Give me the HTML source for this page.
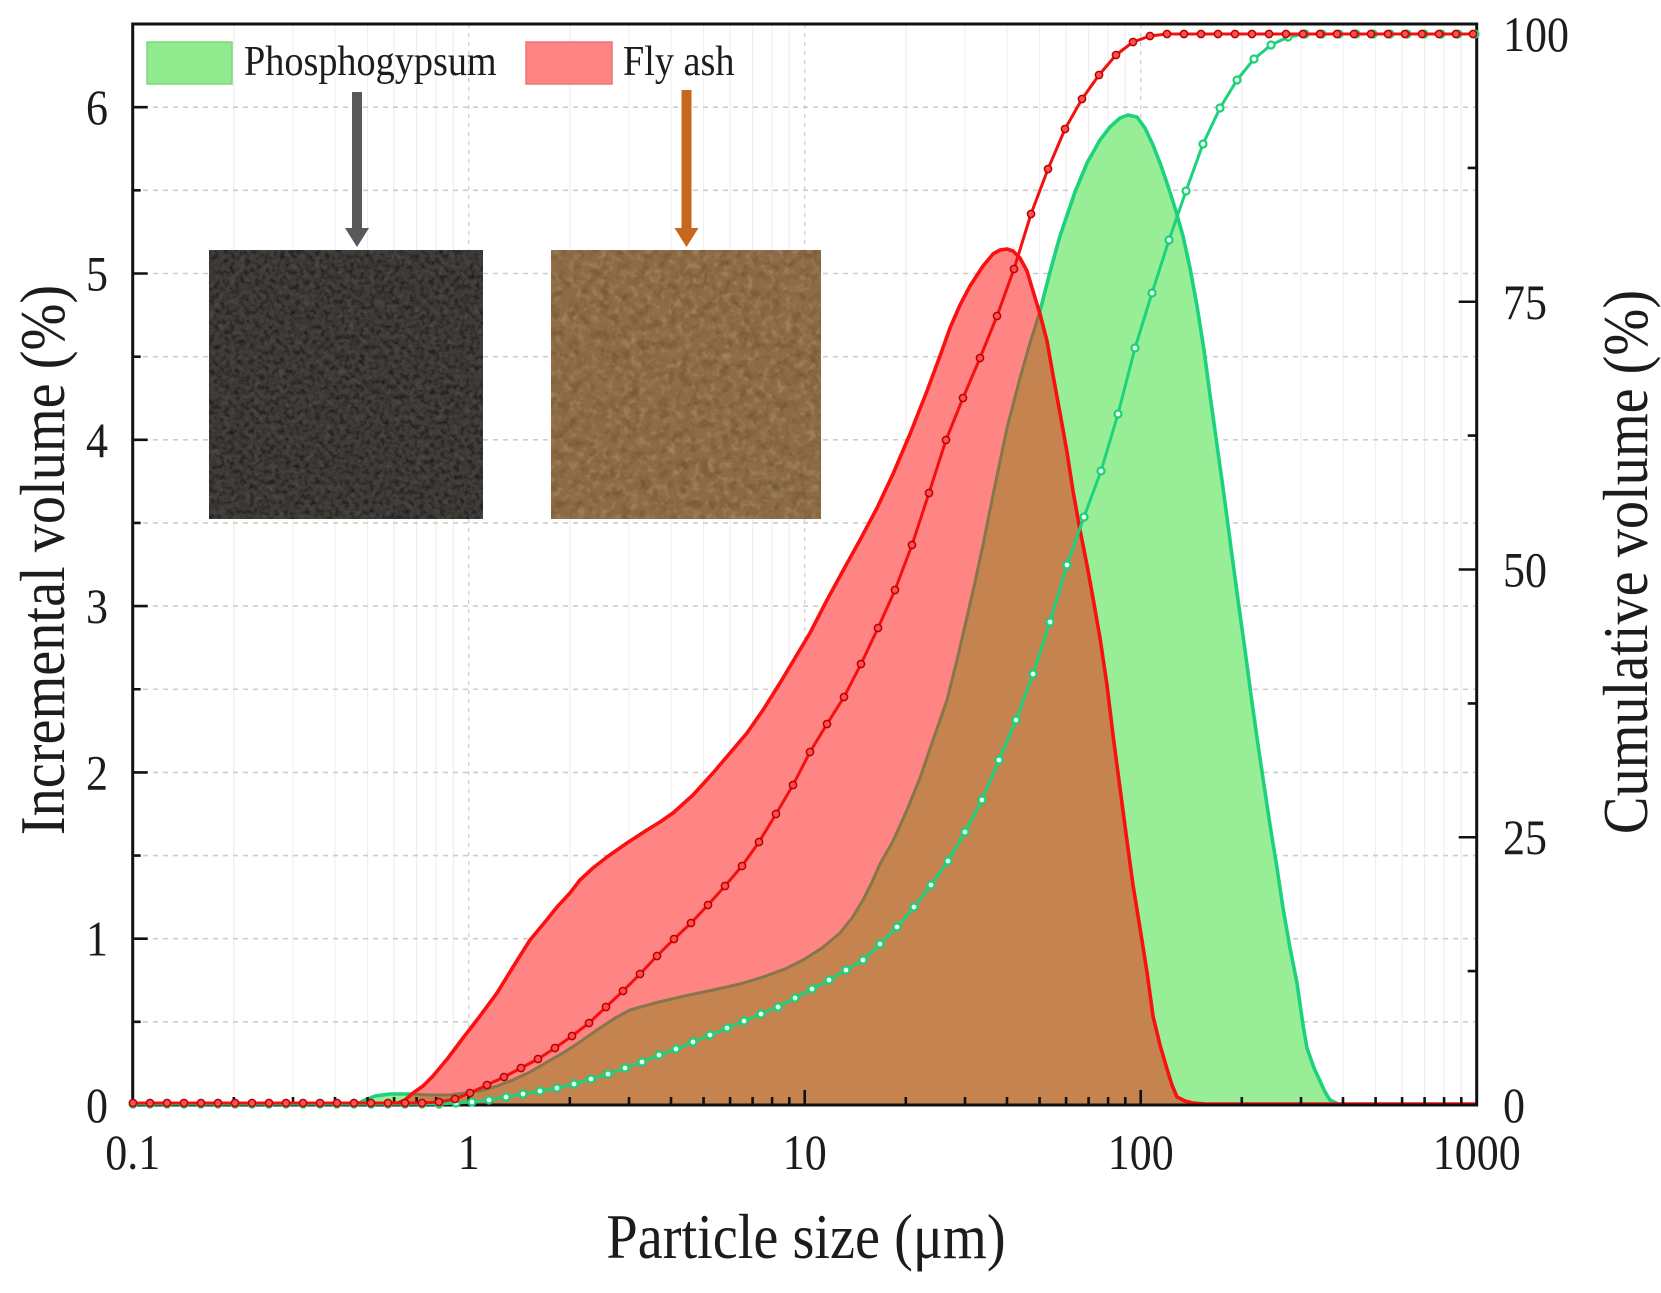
<!DOCTYPE html>
<html><head><meta charset="utf-8"><title>Particle size distribution</title>
<style>
html,body{margin:0;padding:0;background:#fff;}
svg{display:block;}
text{font-family:"Liberation Serif","Times New Roman",serif;fill:#1c1c1c;}
</style></head>
<body>
<svg width="1661" height="1293" viewBox="0 0 1661 1293" xmlns="http://www.w3.org/2000/svg">
<defs>
  <clipPath id="plotclip"><rect x="132.7" y="24" width="1344" height="1081"/></clipPath>
  <clipPath id="redclip">
    <polygon points="132,1105 395,1105 405,1100 413,1093 423,1086 433,1076 448,1058 463,1038 480,1016 497,993 513,967 530,940 545,922 557,907 570,893 580,880 593,868 607,857 627,843 647,830 660,822 673,813 693,795 713,773 730,753 747,733 763,710 780,683 795,658 810,633 827,600 845,567 860,540 877,508 893,474 910,434 927,391 940,356 950,328 960,305 970,286 983,266 993,254 1000,250 1007,249 1013,251 1020,258 1027,271 1033,291 1040,314 1047,341 1053,375 1060,413 1067,452 1073,491 1080,530 1087,565 1093,598 1100,638 1107,685 1113,735 1120,788 1127,841 1133,885 1140,928 1147,972 1153,1016 1160,1045 1167,1069 1172,1085 1177,1097 1185,1101 1193,1103 1205,1105 1477,1105"/>
  </clipPath>
  <marker id="mr" markerWidth="12" markerHeight="12" refX="6" refY="6" markerUnits="userSpaceOnUse">
    <circle cx="6" cy="6" r="3.6" fill="#ff5050" stroke="#b80000" stroke-width="1.5"/>
  </marker>
  <marker id="mg" markerWidth="12" markerHeight="12" refX="6" refY="6" markerUnits="userSpaceOnUse">
    <circle cx="6" cy="6" r="3.5" fill="#eafff2" stroke="#1ccf7a" stroke-width="2.2"/>
  </marker>
  <filter id="grainDark" x="0" y="0" width="100%" height="100%">
    <feTurbulence type="fractalNoise" baseFrequency="0.2" numOctaves="3" seed="7" result="n"/>
    <feColorMatrix in="n" type="matrix" values="0 0 0 0 0  0 0 0 0 0  0 0 0 0 0  -2.2 0 0 0 1.3"/>
  </filter>
  <filter id="grainDark2" x="0" y="0" width="100%" height="100%">
    <feTurbulence type="fractalNoise" baseFrequency="0.1" numOctaves="3" seed="11" result="n"/>
    <feColorMatrix in="n" type="matrix" values="0 0 0 0 0.15  0 0 0 0 0.08  0 0 0 0 0.02  -2.6 0 0 0 1.45"/>
  </filter>
  <filter id="grainLight" x="0" y="0" width="100%" height="100%">
    <feTurbulence type="fractalNoise" baseFrequency="0.13" numOctaves="3" seed="21" result="n"/>
    <feColorMatrix in="n" type="matrix" values="0 0 0 0 1  0 0 0 0 1  0 0 0 0 1  2.2 0 0 0 -1.05"/>
  </filter>
</defs>

<rect x="0" y="0" width="1661" height="1293" fill="#fff"/>

<!-- vertical grid -->
<g stroke="#efefef" stroke-width="1.2" fill="none">
  <path d="M233.8 24V1105M293 24V1105M335 24V1105M367.6 24V1105M394.1 24V1105M416.6 24V1105M436.1 24V1105M453.3 24V1105
  M569.8 24V1105M629 24V1105M671 24V1105M703.6 24V1105M730.1 24V1105M752.6 24V1105M772.1 24V1105M789.3 24V1105
  M905.8 24V1105M965 24V1105M1007 24V1105M1039.6 24V1105M1066.1 24V1105M1088.6 24V1105M1108.1 24V1105M1125.3 24V1105
  M1241.8 24V1105M1301 24V1105M1343 24V1105M1375.6 24V1105M1402.1 24V1105M1424.6 24V1105M1444.1 24V1105M1461.3 24V1105"/>
</g>
<g stroke="#d2d2d2" stroke-width="1.4" stroke-dasharray="4 5" fill="none">
  <path d="M468.7 24V1105M804.7 24V1105M1140.7 24V1105"/>
</g>
<!-- horizontal grid -->
<g stroke="#cdcdcd" stroke-width="1.6" stroke-dasharray="5 5" fill="none">
  <path d="M133 1021.85H1477M133 938.7H1477M133 855.55H1477M133 772.4H1477M133 689.25H1477M133 606.1H1477M133 522.95H1477M133 439.8H1477M133 356.65H1477M133 273.5H1477M133 190.35H1477M133 107.2H1477"/>
</g>

<g clip-path="url(#plotclip)">
<!-- green fill -->
<polygon fill="#98ee96" points="132,1105 355,1105 365,1100 375,1096 390,1094 410,1094 430,1095 450,1095 465,1093 480,1091 497,1086 513,1080 530,1072 547,1062 563,1053 580,1042 597,1030 615,1018 630,1010 655,1003 680,997 713,990 740,984 763,977 785,969 803,960 822,948 840,933 852,918 863,900 872,882 880,864 893,841 907,810 920,778 933,740 947,700 957,660 967,617 975,582 983,545 993,495 1007,428 1020,378 1030,343 1040,311 1050,272 1060,236 1075,192 1087,163 1100,140 1110,127 1120,118 1128,115 1137,117 1145,128 1153,145 1160,163 1167,183 1175,208 1183,236 1190,268 1197,306 1204,350 1210,395 1217,445 1224,495 1231,548 1238,600 1245,650 1251,695 1257,738 1264,785 1270,825 1277,868 1283,908 1290,948 1297,983 1303,1025 1307,1048 1314,1068 1320,1081 1325,1092 1330,1100 1340,1105 1477,1105"/>
<!-- green line -->
<polyline fill="none" stroke="#1dd27c" stroke-width="3.6" stroke-linejoin="round" points="132,1105 355,1105 365,1100 375,1096 390,1094 410,1094 430,1095 450,1095 465,1093 480,1091 497,1086 513,1080 530,1072 547,1062 563,1053 580,1042 597,1030 615,1018 630,1010 655,1003 680,997 713,990 740,984 763,977 785,969 803,960 822,948 840,933 852,918 863,900 872,882 880,864 893,841 907,810 920,778 933,740 947,700 957,660 967,617 975,582 983,545 993,495 1007,428 1020,378 1030,343 1040,311 1050,272 1060,236 1075,192 1087,163 1100,140 1110,127 1120,118 1128,115 1137,117 1145,128 1153,145 1160,163 1167,183 1175,208 1183,236 1190,268 1197,306 1204,350 1210,395 1217,445 1224,495 1231,548 1238,600 1245,650 1251,695 1257,738 1264,785 1270,825 1277,868 1283,908 1290,948 1297,983 1303,1025 1307,1048 1314,1068 1320,1081 1325,1092 1330,1100 1340,1105 1477,1105"/>
<!-- red fill -->
<rect x="132" y="24" width="1345" height="1081" fill="#ff8585" clip-path="url(#redclip)"/>
<!-- overlap brown -->
<g clip-path="url(#redclip)">
<polygon fill="#c4834f" points="132,1105 355,1105 365,1100 375,1096 390,1094 410,1094 430,1095 450,1095 465,1093 480,1091 497,1086 513,1080 530,1072 547,1062 563,1053 580,1042 597,1030 615,1018 630,1010 655,1003 680,997 713,990 740,984 763,977 785,969 803,960 822,948 840,933 852,918 863,900 872,882 880,864 893,841 907,810 920,778 933,740 947,700 957,660 967,617 975,582 983,545 993,495 1007,428 1020,378 1030,343 1040,311 1050,272 1060,236 1075,192 1087,163 1100,140 1110,127 1120,118 1128,115 1137,117 1145,128 1153,145 1160,163 1167,183 1175,208 1183,236 1190,268 1197,306 1204,350 1210,395 1217,445 1224,495 1231,548 1238,600 1245,650 1251,695 1257,738 1264,785 1270,825 1277,868 1283,908 1290,948 1297,983 1303,1025 1307,1048 1314,1068 1320,1081 1325,1092 1330,1100 1340,1105 1477,1105"/>
<polyline fill="none" stroke="#86774a" stroke-width="3" stroke-linejoin="round" points="355,1105 365,1100 375,1096 390,1094 410,1094 430,1095 450,1095 465,1093 480,1091 497,1086 513,1080 530,1072 547,1062 563,1053 580,1042 597,1030 615,1018 630,1010 655,1003 680,997 713,990 740,984 763,977 785,969 803,960 822,948 840,933 852,918 863,900 872,882 880,864 893,841 907,810 920,778 933,740 947,700 957,660 967,617 975,582 983,545 993,495 1007,428 1020,378 1030,343 1040,311 1050,272"/>
</g>
<!-- red line -->
<polyline fill="none" stroke="#fa1010" stroke-width="3.6" stroke-linejoin="round" points="132,1104 395,1104 405,1100 413,1093 423,1086 433,1076 448,1058 463,1038 480,1016 497,993 513,967 530,940 545,922 557,907 570,893 580,880 593,868 607,857 627,843 647,830 660,822 673,813 693,795 713,773 730,753 747,733 763,710 780,683 795,658 810,633 827,600 845,567 860,540 877,508 893,474 910,434 927,391 940,356 950,328 960,305 970,286 983,266 993,254 1000,250 1007,249 1013,251 1020,258 1027,271 1033,291 1040,314 1047,341 1053,375 1060,413 1067,452 1073,491 1080,530 1087,565 1093,598 1100,638 1107,685 1113,735 1120,788 1127,841 1133,885 1140,928 1147,972 1153,1016 1160,1045 1167,1069 1172,1085 1177,1097 1185,1101 1193,1103 1205,1104 1477,1104"/>
</g>

<!-- photos -->
<g>
  <rect x="209" y="250" width="274" height="269" fill="#403d39"/>
  <rect x="209" y="250" width="274" height="269" filter="url(#grainDark)" opacity="0.55"/>
  <rect x="209" y="250" width="274" height="269" filter="url(#grainLight)" opacity="0.08"/>
  <rect x="551" y="250" width="270" height="269" fill="#8e6b47"/>
  <rect x="551" y="250" width="270" height="269" filter="url(#grainDark2)" opacity="0.62"/>
  <rect x="551" y="250" width="270" height="269" filter="url(#grainLight)" opacity="0.2"/>
</g>

<!-- arrows -->
<g>
  <rect x="352" y="92" width="10" height="138" fill="#595959"/>
  <polygon points="345,228 369,228 357,247" fill="#595959"/>
  <rect x="681.5" y="90" width="10" height="140" fill="#c8661c"/>
  <polygon points="674.5,228 698.5,228 686.5,247" fill="#c8661c"/>
</g>

<!-- legend -->
<rect x="147" y="42" width="85" height="42" fill="#90ea8e" stroke="#7ed67c" stroke-width="1.5"/>
<rect x="526" y="42" width="86" height="42" fill="#ff8585" stroke="#ef7070" stroke-width="1.5"/>
<text transform="translate(244,75) scale(0.91,1)" font-size="42">Phosphogypsum</text>
<text transform="translate(623,75) scale(0.91,1)" font-size="42">Fly ash</text>

<!-- frame & ticks -->
<g stroke="#111" fill="none">
  <rect x="132.7" y="24" width="1344" height="1081" stroke-width="3"/>
  <path stroke-width="2.6" d="M468.7 1105v-15M804.7 1105v-15M1140.7 1105v-15
  M233.8 1105v-8M293 1105v-8M335 1105v-8M367.6 1105v-8M394.1 1105v-8M416.6 1105v-8M436.1 1105v-8M453.3 1105v-8
  M569.8 1105v-8M629 1105v-8M671 1105v-8M703.6 1105v-8M730.1 1105v-8M752.6 1105v-8M772.1 1105v-8M789.3 1105v-8
  M905.8 1105v-8M965 1105v-8M1007 1105v-8M1039.6 1105v-8M1066.1 1105v-8M1088.6 1105v-8M1108.1 1105v-8M1125.3 1105v-8
  M1241.8 1105v-8M1301 1105v-8M1343 1105v-8M1375.6 1105v-8M1402.1 1105v-8M1424.6 1105v-8M1444.1 1105v-8M1461.3 1105v-8
  M132.7 938.7h15M132.7 772.4h15M132.7 606.1h15M132.7 439.8h15M132.7 273.5h15M132.7 107.2h15
  M132.7 1021.85h8M132.7 855.55h8M132.7 689.25h8M132.7 522.95h8M132.7 356.65h8M132.7 190.35h8
  M1476.7 837.25h-18M1476.7 569.5h-18M1476.7 301.75h-18
  M1476.7 971.1h-9M1476.7 703.4h-9M1476.7 435.6h-9M1476.7 167.9h-9"/>
</g>

<!-- cumulative curves -->
<polyline fill="none" stroke="#1dd27c" stroke-width="3" stroke-linejoin="round" marker-start="url(#mg)" marker-mid="url(#mg)" marker-end="url(#mg)" points="133,1104 150,1104 167,1104 184,1104 201,1104 218,1104 235,1104 252,1104 269,1104 286,1104 303,1104 320,1104 337,1104 354,1104 371,1104 388,1104 405,1104 422,1104 439,1104 456,1103 472,1102 489,1100 506,1097 523,1094 540,1091 557,1088 574,1084 591,1079 608,1074 625,1068 642,1062 659,1055 676,1049 693,1042 710,1035 727,1028 744,1021 761,1014 778,1007 795,998 812,989 829,980 846,970 863,960 880,944 897,927 914,907 931,885 948,861 965,832 982,800 999,760 1016,720 1033,674 1050,622 1067,565 1084,517 1101,471 1118,414 1135,348 1152,293 1169,240 1186,191 1203,144 1220,108 1237,80 1254,59 1271,45 1288,37 1305,34 1322,34 1339,34 1356,34 1373,34 1390,34 1407,34 1424,34 1441,34 1458,34 1475,34"/>
<polyline fill="none" stroke="#f51010" stroke-width="3" stroke-linejoin="round" marker-start="url(#mr)" marker-mid="url(#mr)" marker-end="url(#mr)" points="133,1103 150,1103 167,1103 184,1103 201,1103 218,1103 235,1103 252,1103 269,1103 286,1103 303,1103 320,1103 337,1103 354,1103 371,1103 388,1103 405,1103 422,1103 439,1102 455,1099 470,1093 487,1085 504,1077 521,1068 538,1059 555,1048 572,1036 589,1023 606,1007 623,991 640,974 657,956 674,939 691,923 708,905 725,886 742,866 759,842 776,814 793,785 810,752 827,724 844,697 861,664 878,628 895,590 912,545 929,493 946,440 963,398 980,358 997,316 1014,269 1031,214 1048,169 1065,129 1082,99 1099,75 1116,55 1133,42 1150,36 1167,34 1184,34 1201,34 1218,34 1235,34 1252,34 1269,34 1286,34 1303,34 1320,34 1337,34 1354,34 1371,34 1388,34 1405,34 1422,34 1439,34 1456,34 1473,34"/>

<!-- tick labels -->
<g font-size="50" text-anchor="middle">
  <text transform="translate(97,1122) scale(0.88,1)">0</text>
  <text transform="translate(97,955.7) scale(0.88,1)">1</text>
  <text transform="translate(97,789.4) scale(0.88,1)">2</text>
  <text transform="translate(97,623.1) scale(0.88,1)">3</text>
  <text transform="translate(97,456.8) scale(0.88,1)">4</text>
  <text transform="translate(97,290.5) scale(0.88,1)">5</text>
  <text transform="translate(97,124.2) scale(0.88,1)">6</text>
  <text transform="translate(132.7,1169) scale(0.88,1)">0.1</text>
  <text transform="translate(468.7,1169) scale(0.88,1)">1</text>
  <text transform="translate(804.7,1169) scale(0.88,1)">10</text>
  <text transform="translate(1140.7,1169) scale(0.88,1)">100</text>
  <text transform="translate(1476.7,1169) scale(0.88,1)">1000</text>
</g>
<g font-size="50" text-anchor="start">
  <text transform="translate(1503,1122) scale(0.88,1)">0</text>
  <text transform="translate(1503,854.2) scale(0.88,1)">25</text>
  <text transform="translate(1503,586.5) scale(0.88,1)">50</text>
  <text transform="translate(1503,318.8) scale(0.88,1)">75</text>
  <text transform="translate(1503,51) scale(0.88,1)">100</text>
</g>

<!-- axis titles -->
<g font-size="64" text-anchor="middle">
  <text transform="translate(806,1258) scale(0.88,1)">Particle size (μm)</text>
  <text transform="translate(64,560) rotate(-90) scale(0.88,1)">Incremental volume (%)</text>
  <text transform="translate(1647,562) rotate(-90) scale(0.88,1)">Cumulative volume (%)</text>
</g>
</svg>
</body></html>
